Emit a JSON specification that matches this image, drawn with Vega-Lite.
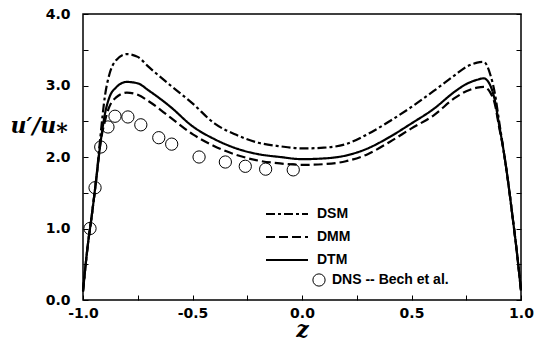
{
 "$schema": "https://vega.github.io/schema/vega-lite/v6.json",
 "width": 438, "height": 286,
 "autosize": {"type": "none"},
 "padding": {"left": 83, "top": 14, "right": 15, "bottom": 43},
 "background": "white",
 "config": {
  "view": {"stroke": "black", "strokeWidth": 1.5},
  "axis": {"grid": false, "domain": false, "tickColor": "black", "tickWidth": 1, "tickSize": 5, "offset": -5, "labelColor": "black", "labelFont": "DejaVu Sans", "labelFontWeight": "bold", "labelFontSize": 14, "titleColor": "black"},
  "legend": {"labelFont": "Liberation Sans", "labelFontSize": 14, "labelFontWeight": "bold", "labelColor": "black", "padding": 0}
 },
 "datasets": {
  "models": [
   {"model":"DSM","z":-1,"v":0.12},{"model":"DSM","z":-0.98,"v":0.72},{"model":"DSM","z":-0.96,"v":1.18},{"model":"DSM","z":-0.94,"v":1.68},{"model":"DSM","z":-0.92,"v":2.3},{"model":"DSM","z":-0.9,"v":2.85},{"model":"DSM","z":-0.88,"v":3.15},{"model":"DSM","z":-0.85,"v":3.35},{"model":"DSM","z":-0.8,"v":3.44},{"model":"DSM","z":-0.75,"v":3.4},{"model":"DSM","z":-0.7,"v":3.26},{"model":"DSM","z":-0.6,"v":3.0},{"model":"DSM","z":-0.5,"v":2.75},{"model":"DSM","z":-0.4,"v":2.47},{"model":"DSM","z":-0.3,"v":2.31},{"model":"DSM","z":-0.2,"v":2.2},{"model":"DSM","z":-0.1,"v":2.15},{"model":"DSM","z":0,"v":2.12},{"model":"DSM","z":0.1,"v":2.13},{"model":"DSM","z":0.2,"v":2.18},{"model":"DSM","z":0.3,"v":2.32},{"model":"DSM","z":0.4,"v":2.5},{"model":"DSM","z":0.5,"v":2.7},{"model":"DSM","z":0.6,"v":2.92},{"model":"DSM","z":0.7,"v":3.15},{"model":"DSM","z":0.75,"v":3.26},{"model":"DSM","z":0.8,"v":3.32},{"model":"DSM","z":0.83,"v":3.33},{"model":"DSM","z":0.86,"v":3.15},{"model":"DSM","z":0.88,"v":2.9},{"model":"DSM","z":0.9,"v":2.5},{"model":"DSM","z":0.92,"v":2.1},{"model":"DSM","z":0.94,"v":1.68},{"model":"DSM","z":0.96,"v":1.2},{"model":"DSM","z":0.98,"v":0.7},{"model":"DSM","z":1,"v":0.13},
   {"model":"DMM","z":-1,"v":0.12},{"model":"DMM","z":-0.98,"v":0.72},{"model":"DMM","z":-0.96,"v":1.18},{"model":"DMM","z":-0.94,"v":1.68},{"model":"DMM","z":-0.92,"v":2.2},{"model":"DMM","z":-0.9,"v":2.5},{"model":"DMM","z":-0.88,"v":2.7},{"model":"DMM","z":-0.85,"v":2.83},{"model":"DMM","z":-0.8,"v":2.9},{"model":"DMM","z":-0.75,"v":2.87},{"model":"DMM","z":-0.7,"v":2.78},{"model":"DMM","z":-0.6,"v":2.55},{"model":"DMM","z":-0.5,"v":2.32},{"model":"DMM","z":-0.4,"v":2.15},{"model":"DMM","z":-0.3,"v":2.03},{"model":"DMM","z":-0.2,"v":1.95},{"model":"DMM","z":-0.1,"v":1.91},{"model":"DMM","z":0,"v":1.89},{"model":"DMM","z":0.1,"v":1.9},{"model":"DMM","z":0.2,"v":1.94},{"model":"DMM","z":0.3,"v":2.04},{"model":"DMM","z":0.4,"v":2.21},{"model":"DMM","z":0.5,"v":2.4},{"model":"DMM","z":0.6,"v":2.58},{"model":"DMM","z":0.7,"v":2.83},{"model":"DMM","z":0.75,"v":2.92},{"model":"DMM","z":0.8,"v":2.97},{"model":"DMM","z":0.83,"v":2.98},{"model":"DMM","z":0.86,"v":2.9},{"model":"DMM","z":0.88,"v":2.75},{"model":"DMM","z":0.9,"v":2.42},{"model":"DMM","z":0.92,"v":2.1},{"model":"DMM","z":0.94,"v":1.68},{"model":"DMM","z":0.96,"v":1.2},{"model":"DMM","z":0.98,"v":0.7},{"model":"DMM","z":1,"v":0.13},
   {"model":"DTM","z":-1,"v":0.12},{"model":"DTM","z":-0.98,"v":0.72},{"model":"DTM","z":-0.96,"v":1.18},{"model":"DTM","z":-0.94,"v":1.68},{"model":"DTM","z":-0.92,"v":2.2},{"model":"DTM","z":-0.9,"v":2.6},{"model":"DTM","z":-0.88,"v":2.83},{"model":"DTM","z":-0.85,"v":2.97},{"model":"DTM","z":-0.8,"v":3.05},{"model":"DTM","z":-0.75,"v":3.03},{"model":"DTM","z":-0.7,"v":2.93},{"model":"DTM","z":-0.6,"v":2.7},{"model":"DTM","z":-0.5,"v":2.43},{"model":"DTM","z":-0.4,"v":2.25},{"model":"DTM","z":-0.3,"v":2.12},{"model":"DTM","z":-0.2,"v":2.04},{"model":"DTM","z":-0.1,"v":2.0},{"model":"DTM","z":0,"v":1.97},{"model":"DTM","z":0.1,"v":1.98},{"model":"DTM","z":0.2,"v":2.02},{"model":"DTM","z":0.3,"v":2.12},{"model":"DTM","z":0.4,"v":2.28},{"model":"DTM","z":0.5,"v":2.47},{"model":"DTM","z":0.6,"v":2.67},{"model":"DTM","z":0.7,"v":2.92},{"model":"DTM","z":0.75,"v":3.02},{"model":"DTM","z":0.8,"v":3.08},{"model":"DTM","z":0.83,"v":3.1},{"model":"DTM","z":0.86,"v":3.0},{"model":"DTM","z":0.88,"v":2.8},{"model":"DTM","z":0.9,"v":2.45},{"model":"DTM","z":0.92,"v":2.1},{"model":"DTM","z":0.94,"v":1.68},{"model":"DTM","z":0.96,"v":1.2},{"model":"DTM","z":0.98,"v":0.7},{"model":"DTM","z":1,"v":0.13}
  ],
  "dns": [
   {"source":"DNS -- Bech et al.","z":-0.968,"v":1.0},{"source":"DNS -- Bech et al.","z":-0.945,"v":1.57},{"source":"DNS -- Bech et al.","z":-0.919,"v":2.14},{"source":"DNS -- Bech et al.","z":-0.886,"v":2.42},{"source":"DNS -- Bech et al.","z":-0.854,"v":2.57},{"source":"DNS -- Bech et al.","z":-0.795,"v":2.56},{"source":"DNS -- Bech et al.","z":-0.736,"v":2.45},{"source":"DNS -- Bech et al.","z":-0.654,"v":2.27},{"source":"DNS -- Bech et al.","z":-0.595,"v":2.18},{"source":"DNS -- Bech et al.","z":-0.47,"v":2.0},{"source":"DNS -- Bech et al.","z":-0.35,"v":1.93},{"source":"DNS -- Bech et al.","z":-0.259,"v":1.87},{"source":"DNS -- Bech et al.","z":-0.166,"v":1.83},{"source":"DNS -- Bech et al.","z":-0.04,"v":1.82}
  ]
 },
 "resolve": {"axis": {"y": "independent"}},
 "layer": [
  {
   "data": {"name": "models"},
   "mark": {"type": "line", "interpolate": "monotone", "strokeWidth": 2.2, "color": "black"},
   "encoding": {
    "x": {"field": "z", "type": "quantitative", "scale": {"domain": [-1, 1], "nice": false, "zero": false},
      "axis": {"title": "z", "titleFont": "DejaVu Serif", "titleFontStyle": "italic", "titleFontWeight": "bold", "titleFontSize": 22, "titleY": 41, "titleBaseline": "alphabetic", "values": [-1,-0.75,-0.5,-0.25,0,0.25,0.5,0.75,1], "labelExpr": "(datum.value*2) % 1 === 0 ? replace(format(datum.value, '.1f'), '\u2212', '-') : ''", "labelPadding": 6, "labelFlush": false, "labelOverlap": false}},
    "y": {"field": "v", "type": "quantitative", "scale": {"domain": [0, 4], "nice": false},
      "axis": {"title": "u\u2032/u\u204e", "titleAngle": 0, "titleFont": "DejaVu Serif", "titleFontStyle": "italic", "titleFontWeight": "bold", "titleFontSize": 22, "titleX": -78, "titleY": 118, "titleAlign": "left", "titleBaseline": "alphabetic", "values": [0,0.5,1,1.5,2,2.5,3,3.5,4], "labelExpr": "datum.value % 1 === 0 ? format(datum.value, '.1f') : ''", "labelAlign": "right", "labelPadding": 13, "labelOverlap": false}},
    "strokeDash": {"field": "model", "type": "nominal", "scale": {"domain": ["DSM", "DMM", "DTM"], "range": [[9,3,3,3],[9,4],[1,0]]},
      "legend": {"title": null, "orient": "none", "legendX": 196, "legendY": 192, "symbolType": "M-3,0H3", "symbolSize": 196, "symbolStrokeColor": "black", "symbolStrokeWidth": 2, "symbolOpacity": 1, "labelOffset": 22, "rowPadding": 8}}
   }
  },
  {
   "data": {"name": "dns"},
   "mark": {"type": "point", "filled": false, "color": "black", "opacity": 1, "size": 150, "strokeWidth": 1},
   "encoding": {
    "x": {"field": "z", "type": "quantitative"},
    "y": {"field": "v", "type": "quantitative", "axis": {"orient": "right", "title": null, "labels": false, "values": [0,0.5,1,1.5,2,2.5,3,3.5,4]}},
    "shape": {"field": "source", "type": "nominal", "scale": {"range": ["circle"]},
      "legend": {"title": null, "orient": "none", "legendX": 229, "legendY": 259, "symbolSize": 150, "symbolStrokeColor": "black", "symbolStrokeWidth": 1, "symbolOpacity": 1, "symbolFillColor": "transparent", "labelOffset": 6}}
   }
  }
 ]
}
